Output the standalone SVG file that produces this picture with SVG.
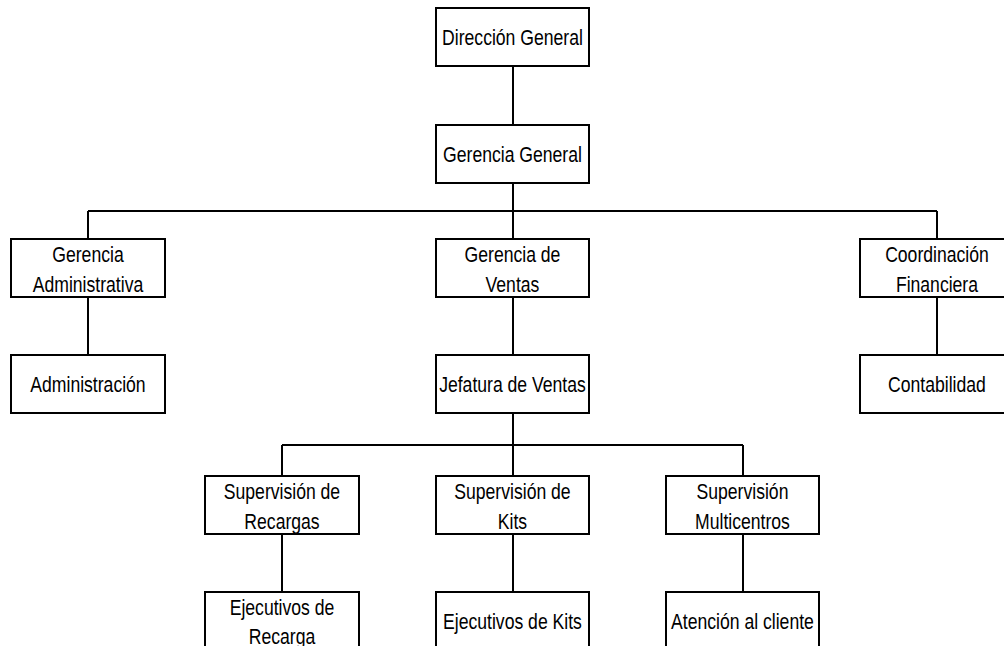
<svg xmlns="http://www.w3.org/2000/svg" width="1004" height="646" viewBox="0 0 1004 646">
<style>
.box{fill:#fff;stroke:#000;stroke-width:2}
.t{font-family:"Liberation Sans","Arial",sans-serif;font-size:22px;fill:#000;text-anchor:middle}
.c{stroke:#000;stroke-width:2;fill:none}
</style>
<rect width="1004" height="646" fill="#fff"/>
<g id="connectors">
<path class="c" d="M513 66V125M513 183V239M88 211H937M88 211V239M937 211V239M88 297V355M513 297V355M937 297V355M513 413V476M282 445H743M282 445V476M743 445V476M282 534V592M513 534V592M743 534V592"/>
</g>
<g id="n1"><rect class="box" x="436" y="8" width="153" height="58"/><text class="t" transform="scale(0.8,1)" x="640.6" y="45">Dirección General</text></g>
<g id="n2"><rect class="box" x="436" y="125" width="153" height="58"/><text class="t" transform="scale(0.8,1)" x="640.6" y="162">Gerencia General</text></g>
<g id="n3"><rect class="box" x="11" y="239" width="154" height="58"/><text class="t" transform="scale(0.8,1)" x="110" y="262">Gerencia</text><text class="t" transform="scale(0.8,1)" x="110" y="292">Administrativa</text></g>
<g id="n4"><rect class="box" x="436" y="239" width="153" height="58"/><text class="t" transform="scale(0.8,1)" x="640.6" y="262">Gerencia de</text><text class="t" transform="scale(0.8,1)" x="640.6" y="292">Ventas</text></g>
<g id="n5"><rect class="box" x="860" y="239" width="154" height="58"/><text class="t" transform="scale(0.8,1)" x="1171.2" y="262">Coordinación</text><text class="t" transform="scale(0.8,1)" x="1171.2" y="292">Financiera</text></g>
<g id="n6"><rect class="box" x="11" y="355" width="154" height="58"/><text class="t" transform="scale(0.8,1)" x="110" y="392">Administración</text></g>
<g id="n7"><rect class="box" x="436" y="355" width="153" height="58"/><text class="t" transform="scale(0.8,1)" x="640.6" y="392">Jefatura de Ventas</text></g>
<g id="n8"><rect class="box" x="860" y="355" width="154" height="58"/><text class="t" transform="scale(0.8,1)" x="1171.2" y="392">Contabilidad</text></g>
<g id="n9"><rect class="box" x="205" y="476" width="154" height="58"/><text class="t" transform="scale(0.8,1)" x="352.5" y="499">Supervisión de</text><text class="t" transform="scale(0.8,1)" x="352.5" y="529">Recargas</text></g>
<g id="n10"><rect class="box" x="436" y="476" width="153" height="58"/><text class="t" transform="scale(0.8,1)" x="640.6" y="499">Supervisión de</text><text class="t" transform="scale(0.8,1)" x="640.6" y="529">Kits</text></g>
<g id="n11"><rect class="box" x="666" y="476" width="153" height="58"/><text class="t" transform="scale(0.8,1)" x="928.1" y="499">Supervisión</text><text class="t" transform="scale(0.8,1)" x="928.1" y="529">Multicentros</text></g>
<g id="n12"><rect class="box" x="205" y="592" width="154" height="70"/><text class="t" transform="scale(0.8,1)" x="352.5" y="615">Ejecutivos de</text><text class="t" transform="scale(0.8,1)" x="352.5" y="644">Recarga</text></g>
<g id="n13"><rect class="box" x="436" y="592" width="153" height="70"/><text class="t" transform="scale(0.8,1)" x="640.6" y="629">Ejecutivos de Kits</text></g>
<g id="n14"><rect class="box" x="666" y="592" width="153" height="70"/><text class="t" transform="scale(0.8,1)" x="928.1" y="629">Atención al cliente</text></g>
</svg>
